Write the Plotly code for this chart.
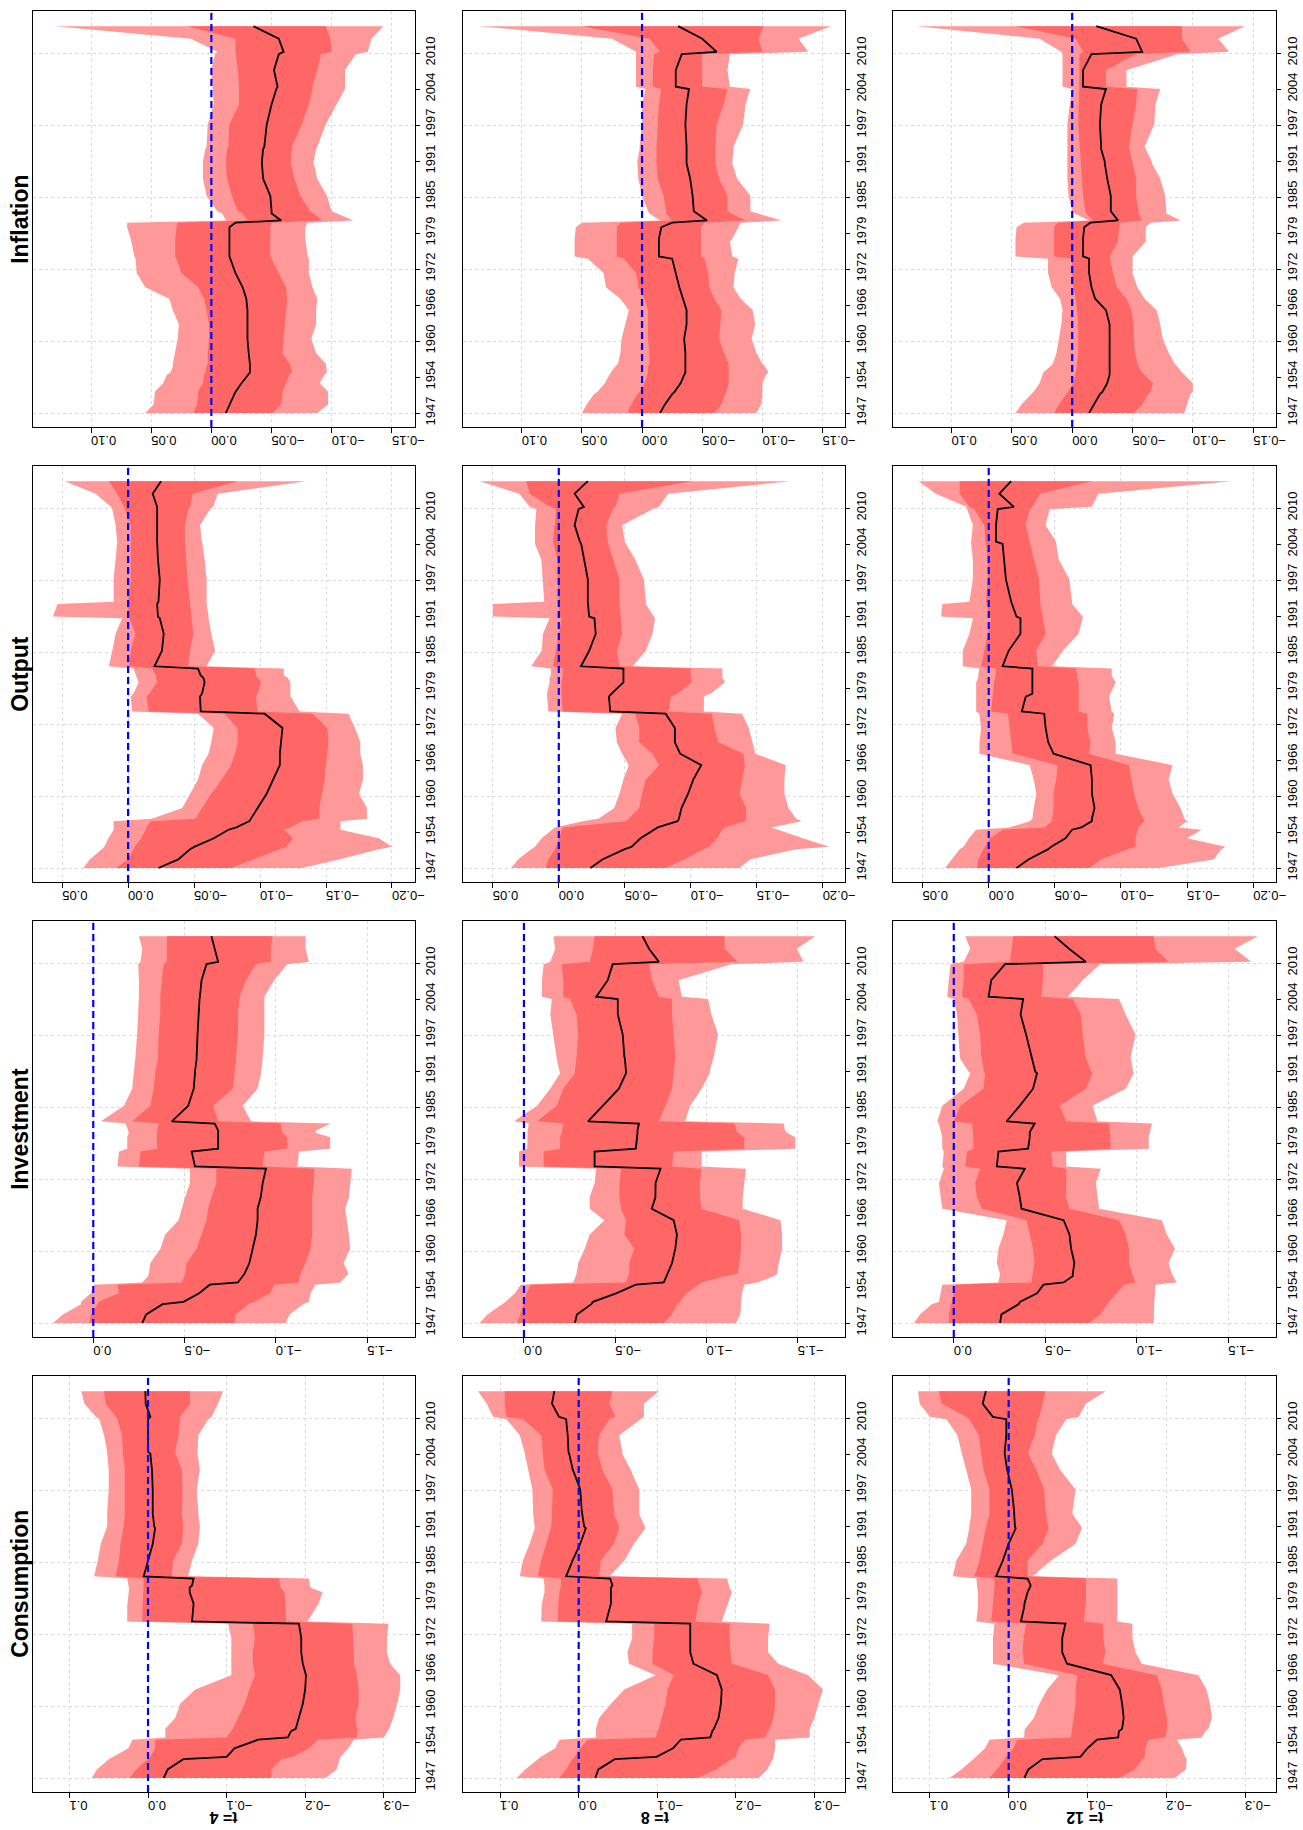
import plotly.graph_objects as go

# ---------------- data ----------------
YEARS = [1947.0, 1948.5, 1950.3, 1950.7, 1952.2, 1953.7, 1954.1, 1955.2, 1955.6, 1957.5,
         1960.0, 1962.5, 1965.0, 1967.0, 1969.0, 1971.5, 1974.0, 1974.4, 1977.0, 1977.5,
         1979.5, 1980.3, 1980.7, 1981.9, 1982.3, 1985.0, 1988.0, 1990.7, 1991.0, 1993.2,
         1993.6, 1997.5, 2001.0, 2003.7, 2004.1, 2007.0, 2009.8, 2010.2, 2012.5, 2014.7]

YEAR_LABELS = ["1947", "1954", "1960", "1966", "1972", "1979", "1985", "1991", "1997", "2004", "2010"]

VARIABLES = ["Inflation", "Output", "Investment", "Consumption"]
HORIZONS = ["t= 4", "t= 8", "t= 12"]

# Inflation
INF4_MED = [-0.012, -0.015, -0.019, -0.02, -0.025, -0.03, -0.032, -0.032, -0.032, -0.031,
            -0.03, -0.03, -0.03, -0.029, -0.026, -0.02, -0.016, -0.015, -0.015, -0.015,
            -0.015, -0.02, -0.058, -0.05, -0.05, -0.049, -0.043, -0.042, -0.042, -0.043,
            -0.044, -0.046, -0.05, -0.054, -0.055, -0.052, -0.056, -0.06, -0.056, -0.035]
INF4_IHI = [0.015, 0.012, 0.011, 0.011, 0.007, 0.006, 0.005, 0.004, 0.003, 0.003,
            0.002, 0.002, 0.004, 0.006, 0.011, 0.025, 0.029, 0.03, 0.03, 0.03,
            0.029, 0.028, -0.03, -0.026, -0.022, -0.017, -0.013, -0.012, -0.012, -0.013,
            -0.014, -0.015, -0.023, -0.023, -0.023, -0.022, -0.02, -0.02, -0.02, 0.02]
INF4_OHI = [0.055, 0.048, 0.047, 0.047, 0.04, 0.037, 0.034, 0.032, 0.032, 0.03,
            0.028, 0.027, 0.032, 0.035, 0.055, 0.062, 0.063, 0.064, 0.067, 0.067,
            0.07, 0.07, -0.012, -0.009, -0.005, 0.004, 0.007, 0.007, 0.007, 0.005,
            0.004, 0.003, -0.002, -0.001, -0.001, 0.0, -0.003, -0.005, 0.017, 0.13]
INF4_ILO = [-0.051, -0.058, -0.059, -0.059, -0.062, -0.065, -0.067, -0.066, -0.065, -0.059,
            -0.06, -0.061, -0.062, -0.063, -0.062, -0.056, -0.05, -0.049, -0.049, -0.049,
            -0.049, -0.05, -0.092, -0.085, -0.082, -0.074, -0.069, -0.066, -0.066, -0.067,
            -0.067, -0.075, -0.081, -0.084, -0.084, -0.088, -0.091, -0.1, -0.099, -0.095]
INF4_OLO = [-0.088, -0.097, -0.097, -0.097, -0.09, -0.094, -0.096, -0.095, -0.095, -0.087,
            -0.083, -0.087, -0.087, -0.088, -0.084, -0.081, -0.081, -0.08, -0.078, -0.078,
            -0.078, -0.08, -0.118, -0.105, -0.1, -0.096, -0.088, -0.085, -0.085, -0.087,
            -0.088, -0.095, -0.104, -0.111, -0.111, -0.111, -0.12, -0.13, -0.133, -0.143]

INF8_MED = [-0.015, -0.019, -0.025, -0.027, -0.032, -0.035, -0.036, -0.036, -0.036, -0.036,
            -0.035, -0.037, -0.037, -0.034, -0.031, -0.028, -0.025, -0.014, -0.014, -0.014,
            -0.016, -0.025, -0.054, -0.045, -0.043, -0.042, -0.04, -0.037, -0.037, -0.037,
            -0.037, -0.036, -0.037, -0.039, -0.028, -0.028, -0.033, -0.062, -0.05, -0.03]
INF8_IHI = [0.012, 0.009, 0.004, 0.002, -0.002, -0.004, -0.005, -0.005, -0.006, -0.006,
            -0.005, -0.005, -0.005, -0.002, 0.003, 0.005, 0.015, 0.021, 0.021, 0.021,
            0.021, 0.018, -0.025, -0.02, -0.02, -0.018, -0.013, -0.012, -0.012, -0.012,
            -0.012, -0.013, -0.014, -0.016, -0.009, -0.009, -0.01, -0.015, -0.006, 0.05]
INF8_OHI = [0.05, 0.046, 0.04, 0.037, 0.031, 0.027, 0.026, 0.022, 0.02, 0.018,
            0.017, 0.014, 0.011, 0.018, 0.03, 0.032, 0.045, 0.056, 0.056, 0.056,
            0.055, 0.05, -0.015, -0.006, -0.005, 0.0, 0.003, 0.004, 0.004, 0.002,
            0.002, 0.0, 0.0, -0.003, 0.005, 0.005, 0.005, 0.005, 0.025, 0.135]
INF8_ILO = [-0.06, -0.066, -0.069, -0.07, -0.072, -0.072, -0.072, -0.072, -0.072, -0.068,
            -0.064, -0.065, -0.066, -0.06, -0.056, -0.055, -0.052, -0.049, -0.049, -0.049,
            -0.049, -0.052, -0.086, -0.074, -0.071, -0.071, -0.064, -0.061, -0.061, -0.061,
            -0.061, -0.062, -0.068, -0.071, -0.05, -0.05, -0.05, -0.1, -0.097, -0.101]
INF8_OLO = [-0.095, -0.099, -0.1, -0.1, -0.1, -0.103, -0.105, -0.102, -0.1, -0.095,
            -0.091, -0.094, -0.092, -0.082, -0.076, -0.077, -0.08, -0.075, -0.073, -0.075,
            -0.08, -0.082, -0.116, -0.095, -0.09, -0.09, -0.079, -0.075, -0.075, -0.076,
            -0.076, -0.084, -0.086, -0.09, -0.073, -0.071, -0.073, -0.138, -0.13, -0.157]

INF12_MED = [-0.014, -0.018, -0.023, -0.025, -0.029, -0.031, -0.031, -0.031, -0.031, -0.031,
             -0.031, -0.031, -0.028, -0.019, -0.016, -0.014, -0.014, -0.009, -0.009, -0.009,
             -0.01, -0.015, -0.038, -0.033, -0.032, -0.032, -0.029, -0.027, -0.027, -0.024,
             -0.024, -0.023, -0.024, -0.028, -0.009, -0.009, -0.016, -0.058, -0.053, -0.02]
INF12_IHI = [0.015, 0.011, 0.005, 0.003, -0.001, -0.003, -0.003, -0.004, -0.004, -0.005,
             -0.005, -0.005, -0.004, -0.003, -0.001, 0.0, 0.0, 0.015, 0.015, 0.015,
             0.015, 0.012, -0.017, -0.012, -0.011, -0.009, -0.008, -0.007, -0.007, -0.006,
             -0.006, -0.005, -0.0055, -0.006, -0.006, -0.006, -0.006, -0.009, -0.003, 0.0475]
INF12_OHI = [0.047, 0.042, 0.034, 0.032, 0.027, 0.025, 0.024, 0.018, 0.016, 0.013,
             0.011, 0.009, 0.008, 0.01, 0.017, 0.02, 0.02, 0.047, 0.047, 0.047,
             0.046, 0.04, -0.014, -0.002, 0.0, 0.003, 0.004, 0.004, 0.004, 0.004,
             0.004, 0.004, 0.002, 0.0, 0.008, 0.008, 0.008, 0.009, 0.027, 0.129]
INF12_ILO = [-0.051, -0.058, -0.063, -0.065, -0.067, -0.06, -0.058, -0.055, -0.054, -0.052,
             -0.051, -0.051, -0.049, -0.045, -0.037, -0.034, -0.031, -0.031, -0.038, -0.038,
             -0.039, -0.04, -0.058, -0.055, -0.055, -0.053, -0.053, -0.05, -0.05, -0.047,
             -0.047, -0.05, -0.053, -0.054, -0.028, -0.028, -0.053, -0.098, -0.091, -0.091]
INF12_OLO = [-0.093, -0.095, -0.098, -0.1, -0.1, -0.093, -0.091, -0.087, -0.085, -0.08,
             -0.075, -0.073, -0.07, -0.06, -0.054, -0.05, -0.05, -0.05, -0.061, -0.061,
             -0.061, -0.065, -0.09, -0.078, -0.078, -0.077, -0.073, -0.066, -0.066, -0.061,
             -0.06, -0.068, -0.069, -0.073, -0.045, -0.045, -0.087, -0.13, -0.121, -0.143]

# Output
OUT4_MED = [-0.023, -0.038, -0.047, -0.05, -0.065, -0.076, -0.082, -0.092, -0.093, -0.098,
            -0.105, -0.11, -0.115, -0.115, -0.116, -0.117, -0.1035, -0.055, -0.0545, -0.056,
            -0.058, -0.057, -0.055, -0.053, -0.02, -0.0256, -0.027, -0.024, -0.0226, -0.022,
            -0.023, -0.024, -0.0226, -0.022, -0.022, -0.022, -0.022, -0.022, -0.0186, -0.025]
OUT4_IHI = [0.009, 0.0, -0.004, -0.005, -0.01, -0.013, -0.014, -0.017, -0.051, -0.056,
            -0.063, -0.071, -0.078, -0.081, -0.083, -0.083, -0.073, -0.0155, -0.014, -0.016,
            -0.022, -0.021, -0.021, -0.018, -0.0005, -0.002, -0.0055, -0.001, -0.0005, 0.0,
            0.0, -0.002, -0.002, -0.002, -0.002, -0.002, 0.0025, 0.003, 0.0083, 0.0146]
OUT4_OHI = [0.034, 0.029, 0.02, 0.018, 0.015, 0.011, 0.011, 0.011, -0.018, -0.041,
            -0.047, -0.053, -0.056, -0.061, -0.063, -0.065, -0.053, -0.003, -0.002, -0.004,
            -0.008, -0.007, -0.006, -0.004, 0.0146, 0.012, 0.0095, 0.0045, 0.057, 0.0535,
            0.011, 0.011, 0.0095, 0.0083, 0.0083, 0.0095, 0.012, 0.013, 0.0246, 0.048]
OUT4_ILO = [-0.078, -0.095, -0.115, -0.12, -0.125, -0.118, -0.123, -0.132, -0.145, -0.145,
            -0.147, -0.149, -0.15, -0.151, -0.152, -0.151, -0.14, -0.098, -0.097, -0.098,
            -0.101, -0.098, -0.097, -0.096, -0.0457, -0.047, -0.0495, -0.048, -0.048, -0.047,
            -0.047, -0.045, -0.044, -0.043, -0.043, -0.043, -0.0457, -0.047, -0.049, -0.083]
OUT4_OLO = [-0.132, -0.16, -0.19, -0.2, -0.19, -0.161, -0.161, -0.161, -0.181, -0.181,
            -0.175, -0.178, -0.178, -0.176, -0.176, -0.172, -0.167, -0.13, -0.123, -0.123,
            -0.123, -0.121, -0.118, -0.118, -0.0595, -0.066, -0.063, -0.061, -0.061, -0.0595,
            -0.0595, -0.0595, -0.058, -0.056, -0.056, -0.0545, -0.062, -0.0645, -0.068, -0.135]

OUT8_MED = [-0.024, -0.033, -0.05, -0.055, -0.062, -0.072, -0.075, -0.09, -0.091, -0.093,
            -0.098, -0.102, -0.108, -0.092, -0.088, -0.088, -0.081, -0.039, -0.038, -0.04,
            -0.049, -0.049, -0.049, -0.049, -0.0168, -0.023, -0.028, -0.027, -0.023, -0.022,
            -0.022, -0.022, -0.019, -0.017, -0.016, -0.012, -0.015, -0.019, -0.012, -0.022]
OUT8_IHI = [0.01, 0.008, 0.003, 0.002, 0.0, -0.002, -0.003, -0.051, -0.053, -0.061,
            -0.063, -0.066, -0.076, -0.071, -0.061, -0.061, -0.058, -0.003, -0.002, -0.002,
            -0.002, -0.003, -0.003, -0.003, 0.0045, 0.002, 0.0, -0.002, -0.0005, -0.0005,
            0.0, 0.001, 0.001, 0.004, 0.0045, 0.003, 0.002, 0.007, 0.022, 0.0246]
OUT8_OHI = [0.036, 0.031, 0.021, 0.018, 0.013, 0.005, 0.003, -0.018, -0.03, -0.042,
            -0.046, -0.049, -0.053, -0.048, -0.044, -0.043, -0.048, 0.008, 0.009, 0.009,
            0.007, 0.007, 0.006, 0.006, 0.021, 0.013, 0.012, 0.007, 0.05, 0.05,
            0.011, 0.012, 0.0133, 0.018, 0.018, 0.018, 0.017, 0.022, 0.03, 0.06]
OUT8_ILO = [-0.081, -0.095, -0.11, -0.114, -0.12, -0.124, -0.126, -0.141, -0.142, -0.142,
            -0.137, -0.139, -0.141, -0.14, -0.121, -0.118, -0.116, -0.083, -0.085, -0.09,
            -0.101, -0.1, -0.1, -0.1, -0.046, -0.044, -0.048, -0.047, -0.047, -0.046,
            -0.046, -0.046, -0.041, -0.037, -0.037, -0.036, -0.041, -0.043, -0.046, -0.101]
OUT8_OLO = [-0.137, -0.145, -0.18, -0.205, -0.185, -0.165, -0.161, -0.184, -0.18, -0.174,
            -0.171, -0.171, -0.172, -0.149, -0.147, -0.144, -0.139, -0.11, -0.11, -0.115,
            -0.126, -0.124, -0.124, -0.124, -0.056, -0.066, -0.071, -0.073, -0.072, -0.066,
            -0.066, -0.0645, -0.058, -0.051, -0.05, -0.048, -0.071, -0.076, -0.083, -0.176]

OUT12_MED = [-0.021, -0.03, -0.045, -0.047, -0.058, -0.063, -0.07, -0.078, -0.078, -0.08,
             -0.078, -0.078, -0.077, -0.049, -0.045, -0.043, -0.042, -0.025, -0.028, -0.033,
             -0.033, -0.033, -0.033, -0.033, -0.0105, -0.015, -0.024, -0.024, -0.021, -0.018,
             -0.017, -0.013, -0.0118, -0.0105, -0.0055, -0.0055, -0.0068, -0.019, -0.008, -0.017]
OUT12_IHI = [0.009, 0.008, 0.004, 0.003, -0.001, -0.0105, -0.042, -0.048, -0.048, -0.049,
             -0.049, -0.051, -0.052, -0.018, -0.017, -0.0156, -0.0145, -0.0018, -0.003, -0.003,
             -0.004, -0.005, -0.005, -0.0055, 0.0058, 0.0033, 0.0008, -0.0018, -0.0005, 0.002,
             0.002, 0.0008, 0.0008, 0.002, 0.0025, 0.0033, 0.011, 0.0146, 0.022, 0.022]
OUT12_OHI = [0.033, 0.028, 0.022, 0.019, 0.015, 0.0095, -0.0156, -0.031, -0.033, -0.034,
             -0.036, -0.034, -0.031, 0.007, 0.007, 0.0058, 0.007, 0.0095, 0.0095, 0.0095,
             0.0095, 0.008, 0.008, 0.007, 0.0196, 0.0196, 0.0146, 0.012, 0.036, 0.035,
             0.0146, 0.012, 0.012, 0.0133, 0.0133, 0.012, 0.016, 0.017, 0.04, 0.053]
OUT12_ILO = [-0.076, -0.085, -0.105, -0.111, -0.111, -0.113, -0.113, -0.118, -0.117, -0.113,
             -0.11, -0.108, -0.106, -0.076, -0.077, -0.0745, -0.0745, -0.068, -0.068, -0.068,
             -0.068, -0.067, -0.067, -0.066, -0.037, -0.036, -0.043, -0.041, -0.041, -0.039,
             -0.039, -0.038, -0.034, -0.031, -0.031, -0.028, -0.031, -0.033, -0.039, -0.078]
OUT12_OLO = [-0.1285, -0.17, -0.176, -0.179, -0.15, -0.161, -0.1435, -0.15, -0.148, -0.145,
             -0.139, -0.136, -0.139, -0.096, -0.096, -0.093, -0.095, -0.093, -0.091, -0.092,
             -0.096, -0.094, -0.093, -0.093, -0.048, -0.056, -0.068, -0.071, -0.071, -0.063,
             -0.063, -0.061, -0.053, -0.051, -0.051, -0.043, -0.046, -0.078, -0.083, -0.184]

# Investment
INV4_MED = [-0.268, -0.29, -0.38, -0.494, -0.58, -0.638, -0.792, -0.82, -0.828, -0.855,
            -0.873, -0.891, -0.9, -0.9, -0.917, -0.928, -0.946, -0.557, -0.539, -0.684,
            -0.684, -0.684, -0.684, -0.665, -0.43, -0.52, -0.55, -0.557, -0.557, -0.566,
            -0.566, -0.571, -0.575, -0.582, -0.584, -0.593, -0.62, -0.684, -0.665, -0.647]
INV4_IHI = [0.022, 0.013, -0.024, -0.03, -0.14, -0.132, -0.485, -0.5, -0.503, -0.512,
            -0.566, -0.593, -0.62, -0.629, -0.647, -0.674, -0.674, -0.25, -0.259, -0.349,
            -0.349, -0.349, -0.35, -0.358, -0.213, -0.313, -0.331, -0.34, -0.34, -0.354,
            -0.354, -0.358, -0.367, -0.367, -0.367, -0.376, -0.385, -0.403, -0.403, -0.403]
INV4_OHI = [0.22, 0.166, 0.067, 0.067, 0.013, -0.005, -0.268, -0.3, -0.304, -0.313,
            -0.367, -0.394, -0.467, -0.485, -0.503, -0.53, -0.53, -0.132, -0.141, -0.186,
            -0.186, -0.195, -0.19, -0.177, -0.042, -0.168, -0.213, -0.222, -0.222, -0.231,
            -0.231, -0.24, -0.246, -0.25, -0.25, -0.25, -0.246, -0.259, -0.268, -0.25]
INV4_ILO = [-0.774, -0.78, -0.85, -0.882, -0.97, -0.991, -1.127, -1.13, -1.136, -1.163,
            -1.19, -1.199, -1.199, -1.199, -1.199, -1.208, -1.21, -0.928, -0.937, -1.063,
            -1.063, -1.036, -1.03, -1.027, -0.684, -0.656, -0.765, -0.774, -0.774, -0.783,
            -0.783, -0.792, -0.792, -0.801, -0.801, -0.837, -0.892, -0.973, -0.973, -0.982]
INV4_OLO = [-1.054, -1.075, -1.15, -1.181, -1.19, -1.217, -1.353, -1.39, -1.398, -1.371,
            -1.407, -1.4, -1.389, -1.38, -1.4, -1.407, -1.416, -1.118, -1.127, -1.298,
            -1.298, -1.217, -1.22, -1.3, -0.864, -0.819, -0.9, -0.919, -0.919, -0.928,
            -0.928, -0.937, -0.937, -0.937, -0.937, -0.991, -1.063, -1.181, -1.163, -1.163]

INV8_MED = [-0.279, -0.29, -0.369, -0.378, -0.505, -0.613, -0.766, -0.784, -0.786, -0.811,
            -0.829, -0.838, -0.82, -0.7, -0.72, -0.721, -0.748, -0.387, -0.387, -0.613,
            -0.622, -0.622, -0.622, -0.63, -0.351, -0.43, -0.52, -0.559, -0.559, -0.553,
            -0.55, -0.541, -0.514, -0.514, -0.396, -0.459, -0.486, -0.739, -0.685, -0.649]
INV8_IHI = [0.036, 0.022, 0.007, 0.002, -0.015, -0.036, -0.559, -0.57, -0.577, -0.577,
            -0.604, -0.55, -0.559, -0.532, -0.523, -0.523, -0.532, -0.108, -0.108, -0.198,
            -0.198, -0.207, -0.21, -0.216, -0.072, -0.18, -0.216, -0.279, -0.279, -0.288,
            -0.288, -0.297, -0.288, -0.252, -0.216, -0.216, -0.207, -0.36, -0.378, -0.387]
INV8_OHI = [0.243, 0.2, 0.12, 0.1, 0.05, 0.018, -0.27, -0.285, -0.288, -0.297,
            -0.333, -0.36, -0.441, -0.36, -0.36, -0.387, -0.396, 0.027, 0.027, -0.018,
            -0.018, -0.018, -0.02, -0.027, 0.054, -0.072, -0.144, -0.198, -0.195, -0.18,
            -0.178, -0.162, -0.144, -0.153, -0.099, -0.099, -0.108, -0.144, -0.171, -0.162]
INV8_ILO = [-0.766, -0.81, -0.84, -0.856, -0.89, -0.955, -0.973, -1.1, -1.171, -1.18,
            -1.189, -1.189, -1.18, -0.973, -0.964, -0.964, -0.973, -0.811, -0.82, -1.207,
            -1.207, -1.171, -1.165, -1.153, -0.739, -0.775, -0.811, -0.82, -0.82, -0.829,
            -0.829, -0.82, -0.811, -0.811, -0.739, -0.703, -0.685, -1.171, -1.099, -1.099]
INV8_OLO = [-1.162, -1.185, -1.189, -1.189, -1.195, -1.207, -1.279, -1.37, -1.387, -1.396,
            -1.414, -1.414, -1.405, -1.198, -1.198, -1.207, -1.216, -0.973, -0.973, -1.486,
            -1.486, -1.441, -1.43, -1.423, -0.883, -0.91, -0.973, -1.018, -1.018, -1.036,
            -1.04, -1.063, -1.027, -1.009, -0.865, -0.847, -1.135, -1.532, -1.495, -1.595]

INV12_MED = [-0.253, -0.26, -0.355, -0.361, -0.455, -0.49, -0.6, -0.65, -0.65, -0.659,
             -0.641, -0.632, -0.6, -0.37, -0.361, -0.345, -0.388, -0.235, -0.244, -0.406,
             -0.415, -0.415, -0.42, -0.442, -0.289, -0.36, -0.433, -0.455, -0.445, -0.43,
             -0.425, -0.395, -0.365, -0.379, -0.19, -0.205, -0.28, -0.722, -0.63, -0.55]
INV12_IHI = [0.027, 0.027, 0.015, 0.009, 0.0, -0.009, -0.424, -0.43, -0.433, -0.44,
             -0.433, -0.415, -0.397, -0.153, -0.126, -0.117, -0.144, -0.063, -0.072, -0.108,
             -0.108, -0.105, -0.105, -0.099, 0.0, -0.036, -0.162, -0.171, -0.165, -0.153,
             -0.15, -0.144, -0.126, -0.081, -0.045, -0.054, -0.054, -0.307, -0.316, -0.325]
INV12_OHI = [0.217, 0.185, 0.12, 0.081, 0.072, 0.063, -0.244, -0.25, -0.253, -0.235,
             -0.244, -0.271, -0.289, 0.063, 0.072, 0.081, 0.054, 0.063, 0.054, 0.063,
             0.063, 0.07, 0.072, 0.081, 0.09, 0.063, -0.054, -0.09, -0.08, -0.036,
             -0.033, -0.027, -0.018, 0.0, 0.036, 0.027, 0.018, -0.054, -0.09, -0.063]
INV12_ILO = [-0.74, -0.8, -0.84, -0.848, -0.89, -0.93, -0.993, -0.98, -0.975, -0.957,
             -0.957, -0.939, -0.903, -0.632, -0.614, -0.614, -0.614, -0.542, -0.532, -0.857,
             -0.857, -0.855, -0.852, -0.848, -0.614, -0.578, -0.722, -0.758, -0.75, -0.722,
             -0.72, -0.704, -0.695, -0.65, -0.478, -0.487, -0.487, -1.173, -1.101, -1.092]
INV12_OLO = [-1.092, -1.092, -1.092, -1.095, -1.1, -1.101, -1.218, -1.2, -1.191, -1.173,
             -1.209, -1.164, -1.137, -0.794, -0.785, -0.776, -0.803, -0.614, -0.614, -1.065,
             -1.065, -1.07, -1.075, -1.083, -0.785, -0.758, -0.939, -0.984, -0.98, -0.966,
             -0.966, -0.993, -0.939, -0.903, -0.623, -0.704, -0.8, -1.625, -1.534, -1.661]

# Consumption
CON4_MED = [-0.02, -0.025, -0.045, -0.1, -0.11, -0.14, -0.178, -0.182, -0.188, -0.192,
            -0.197, -0.2, -0.201, -0.197, -0.195, -0.195, -0.192, -0.056, -0.058, -0.058,
            -0.053, -0.053, -0.056, -0.058, 0.0055, 0.0, -0.006, -0.009, -0.008, -0.006,
            -0.006, -0.006, -0.005, -0.003, 0.0, 0.0, 0.0, -0.003, 0.003, 0.0034]
CON4_IHI = [0.023, 0.015, 0.0, -0.003, -0.009, -0.009, -0.1, -0.106, -0.108, -0.1145,
            -0.123, -0.129, -0.136, -0.1335, -0.1335, -0.136, -0.1335, 0.0076, 0.0068, 0.0065,
            0.0055, 0.0055, 0.0055, 0.0055, 0.041, 0.037, 0.035, 0.031, 0.031, 0.0295,
            0.0295, 0.0286, 0.0295, 0.032, 0.032, 0.033, 0.039, 0.041, 0.054, 0.056]
CON4_OHI = [0.0716, 0.065, 0.05, 0.045, 0.025, 0.02, -0.022, -0.022, -0.022, -0.0345,
            -0.041, -0.06, -0.106, -0.106, -0.106, -0.106, -0.102, 0.0265, 0.0265, 0.026,
            0.024, 0.024, 0.025, 0.0265, 0.0686, 0.064, 0.06, 0.052, 0.052, 0.052,
            0.052, 0.05, 0.05, 0.052, 0.052, 0.056, 0.062, 0.0665, 0.081, 0.085]
CON4_ILO = [-0.157, -0.157, -0.17, -0.185, -0.205, -0.216, -0.266, -0.266, -0.266, -0.264,
            -0.268, -0.268, -0.266, -0.262, -0.262, -0.261, -0.26, -0.1756, -0.1756, -0.175,
            -0.1735, -0.169, -0.168, -0.167, -0.03, -0.032, -0.043, -0.045, -0.045, -0.043,
            -0.043, -0.044, -0.043, -0.035, -0.0345, -0.039, -0.041, -0.041, -0.0535, -0.0535]
CON4_OLO = [-0.226, -0.24, -0.244, -0.245, -0.255, -0.262, -0.3, -0.306, -0.307, -0.312,
            -0.317, -0.321, -0.321, -0.308, -0.304, -0.304, -0.306, -0.203, -0.2156, -0.217,
            -0.222, -0.207, -0.206, -0.205, -0.051, -0.056, -0.064, -0.066, -0.066, -0.064,
            -0.064, -0.062, -0.066, -0.063, -0.063, -0.064, -0.0766, -0.081, -0.089, -0.0956]

CON8_MED = [-0.021, -0.025, -0.046, -0.099, -0.12, -0.13, -0.1675, -0.17, -0.172, -0.178,
            -0.181, -0.182, -0.176, -0.146, -0.142, -0.142, -0.142, -0.035, -0.04, -0.041,
            -0.041, -0.041, -0.043, -0.04, 0.016, 0.008, -0.002, -0.009, -0.007, -0.004,
            -0.004, -0.002, 0.0076, 0.012, 0.013, 0.014, 0.016, 0.025, 0.034, 0.031]
CON8_IHI = [0.0245, 0.016, 0.008, 0.005, -0.002, -0.0114, -0.098, -0.1, -0.102, -0.106,
            -0.1105, -0.113, -0.121, -0.094, -0.094, -0.096, -0.096, 0.0266, 0.0266, 0.026,
            0.0245, 0.0225, 0.0225, 0.0225, 0.052, 0.0477, 0.041, 0.035, 0.035, 0.034,
            0.034, 0.033, 0.0435, 0.0456, 0.0456, 0.0477, 0.071, 0.092, 0.094, 0.094]
CON8_OHI = [0.079, 0.068, 0.052, 0.048, 0.03, 0.0245, -0.022, -0.022, -0.022, -0.026,
            -0.041, -0.058, -0.098, -0.064, -0.062, -0.068, -0.068, 0.0477, 0.0477, 0.047,
            0.0435, 0.0435, 0.0435, 0.045, 0.075, 0.071, 0.0624, 0.056, 0.056, 0.058,
            0.058, 0.059, 0.0646, 0.069, 0.069, 0.075, 0.092, 0.109, 0.117, 0.128]
CON8_ILO = [-0.151, -0.175, -0.195, -0.2, -0.203, -0.212, -0.237, -0.242, -0.243, -0.248,
            -0.25, -0.25, -0.241, -0.195, -0.193, -0.192, -0.192, -0.1485, -0.151, -0.152,
            -0.157, -0.155, -0.154, -0.151, -0.026, -0.028, -0.045, -0.0515, -0.051, -0.045,
            -0.045, -0.043, -0.03, -0.024, -0.024, -0.026, -0.039, -0.047, -0.039, -0.043]
CON8_OLO = [-0.229, -0.24, -0.247, -0.248, -0.25, -0.25, -0.294, -0.294, -0.294, -0.3,
            -0.305, -0.311, -0.292, -0.254, -0.241, -0.241, -0.243, -0.182, -0.189, -0.19,
            -0.195, -0.192, -0.191, -0.189, -0.039, -0.058, -0.0705, -0.085, -0.084, -0.077,
            -0.077, -0.077, -0.066, -0.0557, -0.0557, -0.0515, -0.079, -0.083, -0.083, -0.102]

CON12_MED = [-0.0198, -0.025, -0.043, -0.091, -0.1, -0.112, -0.139, -0.14, -0.144, -0.146,
             -0.144, -0.141, -0.13, -0.074, -0.068, -0.068, -0.072, -0.0156, -0.0198, -0.02,
             -0.024, -0.026, -0.028, -0.024, 0.016, 0.0076, 0.0, -0.009, -0.008, -0.007,
             -0.007, -0.004, 0.002, 0.005, 0.005, 0.003, 0.003, 0.02, 0.033, 0.029]
CON12_IHI = [0.0244, 0.015, 0.005, 0.003, -0.006, -0.011, -0.079, -0.08, -0.081, -0.083,
             -0.085, -0.085, -0.087, -0.0198, -0.0177, -0.019, -0.022, 0.022, 0.02, 0.02,
             0.018, 0.018, 0.018, 0.018, 0.0434, 0.037, 0.033, 0.0286, 0.0286, 0.0244,
             0.0244, 0.0244, 0.032, 0.035, 0.035, 0.038, 0.05, 0.054, 0.085, 0.089]
CON12_OHI = [0.075, 0.06, 0.045, 0.042, 0.03, 0.0244, -0.0198, -0.02, -0.021, -0.032,
             -0.039, -0.049, -0.064, 0.02, 0.02, 0.02, 0.018, 0.041, 0.039, 0.039,
             0.039, 0.04, 0.04, 0.041, 0.0707, 0.0665, 0.054, 0.05, 0.05, 0.0476,
             0.0476, 0.0476, 0.054, 0.06, 0.06, 0.065, 0.079, 0.1, 0.113, 0.115]
CON12_ILO = [-0.14, -0.16, -0.17, -0.173, -0.173, -0.178, -0.199, -0.2, -0.201, -0.201,
             -0.197, -0.1945, -0.188, -0.119, -0.123, -0.12, -0.12, -0.0956, -0.098, -0.098,
             -0.098, -0.098, -0.098, -0.098, -0.024, -0.024, -0.043, -0.051, -0.05, -0.047,
             -0.047, -0.045, -0.035, -0.025, -0.025, -0.033, -0.037, -0.039, -0.043, -0.047]
CON12_OLO = [-0.211, -0.225, -0.226, -0.224, -0.22, -0.2135, -0.245, -0.25, -0.2535, -0.258,
             -0.2556, -0.251, -0.241, -0.169, -0.161, -0.157, -0.157, -0.138, -0.138, -0.138,
             -0.138, -0.138, -0.138, -0.138, -0.0303, -0.0535, -0.085, -0.093, -0.092, -0.081,
             -0.081, -0.085, -0.065, -0.055, -0.055, -0.06, -0.073, -0.089, -0.098, -0.123]

# value-axis ticks per variable
INF_TICKS = [0.10, 0.05, 0.0, -0.05, -0.10, -0.15]
INF_TICKTEXT = ["0.10", "0.05", "0.00", "\u22120.05", "\u22120.10", "\u22120.15"]
OUT_TICKS = [0.05, 0.0, -0.05, -0.10, -0.15, -0.20]
OUT_TICKTEXT = ["0.05", "0.00", "\u22120.05", "\u22120.10", "\u22120.15", "\u22120.20"]
INV_TICKS = [0.0, -0.5, -1.0, -1.5]
INV_TICKTEXT = ["0.0", "\u22120.5", "\u22121.0", "\u22121.5"]
CON_TICKS = [0.1, 0.0, -0.1, -0.2, -0.3]
CON_TICKTEXT = ["0.1", "0.0", "\u22120.1", "\u22120.2", "\u22120.3"]

# ---------------- assembly ----------------
PANELS = [
    [(INF4_OLO, INF4_OHI, INF4_ILO, INF4_IHI, INF4_MED),
     (INF8_OLO, INF8_OHI, INF8_ILO, INF8_IHI, INF8_MED),
     (INF12_OLO, INF12_OHI, INF12_ILO, INF12_IHI, INF12_MED)],
    [(OUT4_OLO, OUT4_OHI, OUT4_ILO, OUT4_IHI, OUT4_MED),
     (OUT8_OLO, OUT8_OHI, OUT8_ILO, OUT8_IHI, OUT8_MED),
     (OUT12_OLO, OUT12_OHI, OUT12_ILO, OUT12_IHI, OUT12_MED)],
    [(INV4_OLO, INV4_OHI, INV4_ILO, INV4_IHI, INV4_MED),
     (INV8_OLO, INV8_OHI, INV8_ILO, INV8_IHI, INV8_MED),
     (INV12_OLO, INV12_OHI, INV12_ILO, INV12_IHI, INV12_MED)],
    [(CON4_OLO, CON4_OHI, CON4_ILO, CON4_IHI, CON4_MED),
     (CON8_OLO, CON8_OHI, CON8_ILO, CON8_IHI, CON8_MED),
     (CON12_OLO, CON12_OHI, CON12_ILO, CON12_IHI, CON12_MED)],
]
for row in PANELS:
    for panel in row:
        for s in panel:
            assert len(s) == len(YEARS), len(s)

ROW_TICKS = [(INF_TICKS, INF_TICKTEXT), (OUT_TICKS, OUT_TICKTEXT),
             (INV_TICKS, INV_TICKTEXT), (CON_TICKS, CON_TICKTEXT)]
ROW_RANGES = [[0.1484, -0.169], [0.0723, -0.2173], [0.3315, -1.761], [0.1467, -0.3395]]

W, H = 1303, 1830
COL_LEFT = [33, 467, 900]
COL_RIGHT = [418, 852, 1286]
ROW_TOP = [11, 466, 921, 1376]
ROW_BOTTOM = [427, 882, 1337, 1792]
YEAR_RANGE = [1944.55, 2017.35]
YEAR_TICKVALS = [1947 + 6.3 * k for k in range(len(YEAR_LABELS))]

LIGHT = "#FF9999"
DARK = "#FF6666"
GRID = "#DADADA"
FONT = "Liberation Sans, Arial, Helvetica, sans-serif"

fig = go.Figure()
layout = dict(width=W, height=H, margin=dict(l=0, r=0, t=0, b=0),
              paper_bgcolor="white", plot_bgcolor="white", showlegend=False,
              font=dict(family=FONT, color="black"))
shapes = []
annotations = []

for r in range(4):
    for c in range(3):
        idx = r * 3 + c + 1
        xn = "x" if idx == 1 else f"x{idx}"
        yn = "y" if idx == 1 else f"y{idx}"
        xkey = "xaxis" if idx == 1 else f"xaxis{idx}"
        ykey = "yaxis" if idx == 1 else f"yaxis{idx}"
        olo, ohi, ilo, ihi, med = PANELS[r][c]

        fig.add_trace(go.Scatter(x=olo, y=YEARS, xaxis=xn, yaxis=yn, mode="lines",
                                 line=dict(width=0, color=LIGHT), hoverinfo="skip"))
        fig.add_trace(go.Scatter(x=ohi, y=YEARS, xaxis=xn, yaxis=yn, mode="lines",
                                 line=dict(width=0, color=LIGHT), fill="tonextx",
                                 fillcolor=LIGHT, hoverinfo="skip"))
        fig.add_trace(go.Scatter(x=ilo, y=YEARS, xaxis=xn, yaxis=yn, mode="lines",
                                 line=dict(width=0, color=DARK), hoverinfo="skip"))
        fig.add_trace(go.Scatter(x=ihi, y=YEARS, xaxis=xn, yaxis=yn, mode="lines",
                                 line=dict(width=0, color=DARK), fill="tonextx",
                                 fillcolor=DARK, hoverinfo="skip"))
        fig.add_trace(go.Scatter(x=med, y=YEARS, xaxis=xn, yaxis=yn, mode="lines",
                                 line=dict(width=1.8, color="black")))

        ticks, ticktext = ROW_TICKS[r]
        layout[xkey] = dict(
            domain=[COL_LEFT[c] / W, COL_RIGHT[c] / W], anchor=yn,
            range=ROW_RANGES[r], tickvals=ticks, ticktext=ticktext, tickangle=180,
            ticks="outside", ticklen=5, tickcolor="black", tickwidth=1,
            showline=True, linecolor="black", linewidth=1, mirror=True,
            showgrid=True, gridcolor=GRID, griddash="dot", gridwidth=1,
            zeroline=False, tickfont=dict(size=13, family=FONT, color="black"),
            fixedrange=True)
        layout[ykey] = dict(
            domain=[1 - ROW_BOTTOM[r] / H, 1 - ROW_TOP[r] / H], anchor=xn, side="right",
            range=YEAR_RANGE, tickvals=YEAR_TICKVALS, ticktext=YEAR_LABELS, tickangle=-90,
            ticks="outside", ticklen=4, tickcolor="black", tickwidth=1,
            showline=True, linecolor="black", linewidth=1, mirror=True,
            showgrid=False, zeroline=False,
            minor=dict(tickvals=YEAR_TICKVALS[::2], showgrid=True, gridcolor=GRID,
                       griddash="dot", gridwidth=1, ticks=""),
            tickfont=dict(size=13, family=FONT, color="black"), fixedrange=True)

        shapes.append(dict(type="line", xref=xn, yref=f"{yn} domain", x0=0, x1=0, y0=0, y1=1,
                           line=dict(color="#0000FF", width=2.2, dash="7px,4px"), layer="above"))

# variable titles (left side, rotated)
for r, name in enumerate(VARIABLES):
    cy = (ROW_TOP[r] + ROW_BOTTOM[r]) / 2
    annotations.append(dict(text=name, x=20 / W, y=1 - cy / H, xref="paper", yref="paper",
                            showarrow=False, textangle=-90, xanchor="center", yanchor="middle",
                            font=dict(size=23, family=FONT, color="black", weight="bold")))

# horizon labels (bottom, upside down)
for c, name in enumerate(HORIZONS):
    cx = (COL_LEFT[c] + COL_RIGHT[c]) / 2
    annotations.append(dict(text=name, x=cx / W, y=1 - 1818 / H, xref="paper", yref="paper",
                            showarrow=False, textangle=180, xanchor="center", yanchor="middle",
                            font=dict(size=16, family=FONT, color="black", weight="bold")))

layout["shapes"] = shapes
layout["annotations"] = annotations
fig.update_layout(**layout)
fig.write_html("out.html")
